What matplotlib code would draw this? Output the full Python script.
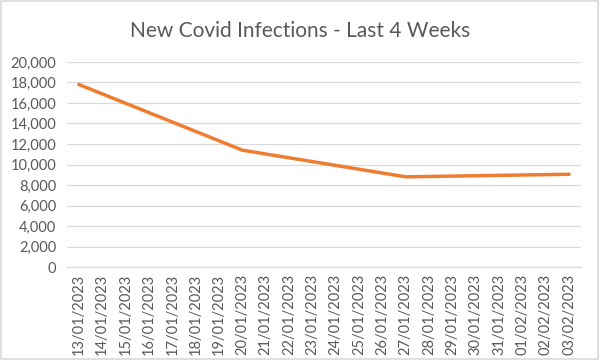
import matplotlib
matplotlib.use('Agg')
import matplotlib.pyplot as plt
from matplotlib.patches import Rectangle

plt.rcParams['font.family'] = ['Lato', 'DejaVu Sans']

# all dates on the category axis
dates = ['13/01/2023', '14/01/2023', '15/01/2023', '16/01/2023', '17/01/2023',
         '18/01/2023', '19/01/2023', '20/01/2023', '21/01/2023', '22/01/2023',
         '23/01/2023', '24/01/2023', '25/01/2023', '26/01/2023', '27/01/2023',
         '28/01/2023', '29/01/2023', '30/01/2023', '31/01/2023', '01/02/2023',
         '02/02/2023', '03/02/2023']
# weekly reported values
report_dates = ['13/01/2023', '20/01/2023', '27/01/2023', '03/02/2023']
infections = [17800, 11400, 8800, 9050]
y_ticks = [0, 2000, 4000, 6000, 8000, 10000, 12000, 14000, 16000, 18000, 20000]

fig = plt.figure(figsize=(6, 3.6), dpi=100)
ax = fig.add_axes([0.112, 0.258, 0.856, 0.570])

x = [dates.index(d) for d in report_dates]
ax.plot(x, infections, color='#ED7D31', linewidth=2.5, solid_capstyle='round', zorder=3)

ax.set_xlim(-0.5, len(dates) - 0.5)
ax.set_ylim(0, 20000)
ax.set_yticks(y_ticks)
ax.set_yticklabels([f'{v:,}' for v in y_ticks])
ax.set_xticks(range(len(dates)))
ax.set_xticklabels(dates, rotation=90)

ax.grid(axis='y', color='#D9D9D9', linewidth=0.9)
ax.set_axisbelow(True)
for s in ['top', 'right', 'left']:
    ax.spines[s].set_visible(False)
ax.spines['bottom'].set_color('#D9D9D9')
ax.spines['bottom'].set_linewidth(0.9)
ax.tick_params(axis='both', length=0, colors='#595959', labelsize=10.5)
ax.tick_params(axis='y', pad=8)
ax.tick_params(axis='x', pad=5)

fig.text(0.5, 0.915, 'New Covid Infections - Last 4 Weeks', ha='center', va='center',
         fontsize=15, color='#595959')

# light border round the chart area
fig.patches.append(Rectangle((0.002, 0.003), 0.995, 0.994, transform=fig.transFigure,
                             fill=False, edgecolor='#D9D9D9', linewidth=1.2))

fig.savefig('out.png', dpi=100)
